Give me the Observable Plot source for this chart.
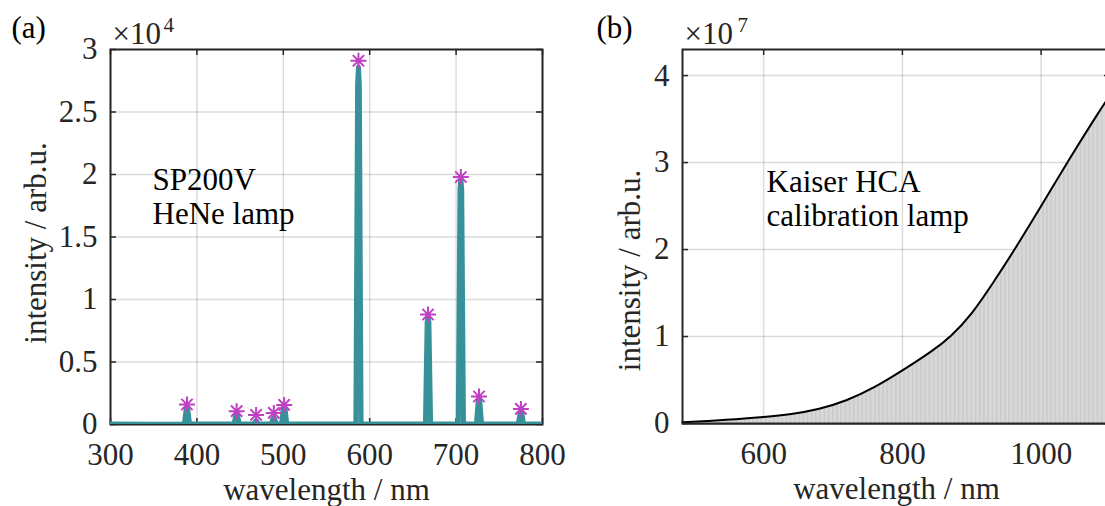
<!DOCTYPE html>
<html>
<head>
<meta charset="utf-8">
<script src="https://cdn.jsdelivr.net/npm/d3@7"></script>
<script src="https://cdn.jsdelivr.net/npm/@observablehq/plot@0.6"></script>
<style>
  html, body { margin: 0; padding: 0; background: #fff; }
  #fig { position: relative; width: 1105px; height: 506px; overflow: hidden; }
  #fig > div { position: absolute; top: 0; }
  #fig svg { max-width: none; }
  #pa { left: 0; width: 580px; }
  #pb { left: 580px; width: 540px; }
</style>
</head>
<body>
<div id="fig"><div id="pa"></div><div id="pb"></div></div>
<script>
// ---- (a) SP200V HeNe lamp spectrum ----
const specWl = [300, 350, 385.5, 387.5, 388.5, 389.5, 391.5, 420, 443, 445, 446, 447, 449,
  465.5, 467.5, 468.5, 469.5, 471.5, 486, 488, 489, 490, 492, 498, 500, 501, 502, 504,
  540, 584, 586, 587, 588, 590, 630, 664.5, 666.5, 667.5, 668.5, 670.5,
  702.5, 704.5, 705.5, 706.5, 708.5, 723.5, 725.5, 726.5, 727.5, 729.5,
  760, 772, 774, 775, 776, 778, 800];
const specI = [40, 30, 50, 1150, 1350, 1150, 40, 40, 40, 700, 850, 700, 40,
  40, 220, 300, 220, 40, 40, 450, 550, 450, 40, 40, 1300, 1500, 1300, 40,
  50, 60, 27200, 28600, 27200, 60, 40, 50, 8200, 8600, 8200, 50,
  60, 18800, 19600, 18800, 60, 40, 1800, 2100, 1800, 40,
  40, 40, 900, 1100, 900, 40, 40];

// detected line positions
const peakWl = [388.5, 446, 468.5, 489, 501, 587, 667.5, 705.5, 726.5, 775];
const peakI = [1600, 1070, 770, 930, 1570, 29100, 8800, 19800, 2240, 1250];

const xTicksA = [300, 400, 500, 600, 700, 800];
const yTicksA = [0, 5000, 10000, 15000, 20000, 25000, 30000];

// ---- (b) Kaiser HCA calibration lamp ----
const calWl = [483, 520, 560, 600, 640, 680, 720, 760, 800, 840, 870, 900, 930, 960, 1000, 1040, 1080, 1100];
const calI = [0.015e7, 0.03e7, 0.05e7, 0.075e7, 0.11e7, 0.17e7, 0.27e7, 0.42e7, 0.61e7, 0.82e7,
  1.01e7, 1.27e7, 1.61e7, 1.98e7, 2.50e7, 3.03e7, 3.54e7, 3.78e7];

const xTicksB = [600, 800, 1000];
const yTicksB = [0, 1e7, 2e7, 3e7, 4e7];

const FONT = "Liberation Serif";
const FS = 31;
const INK = "#262626";
const TEAL = "#379198";
const MAGENTA = "#c040c4";

const spectrum = specWl.map((w, i) => ({w, v: specI[i]}));
const peaks = peakWl.map((w, i) => ({w, v: peakI[i]}));
const cal = calWl.map((w, i) => ({w, v: calI[i]}));

// eight-armed asterisk (plus and cross)
const asterisk8 = {
  draw(context, size) {
    const r = Math.sqrt(size / Math.PI);
    const d = r * Math.SQRT1_2;
    context.moveTo(-r, 0); context.lineTo(r, 0);
    context.moveTo(0, -r); context.lineTo(0, r);
    context.moveTo(-d, -d); context.lineTo(d, d);
    context.moveTo(-d, d); context.lineTo(d, -d);
  }
};

// grid, box and inward ticks on all four sides
function boxMarks(xt, yt, innerW, innerH) {
  const len = 6;
  const tk = {stroke: INK, strokeWidth: 1.5};
  return [
    Plot.gridX(xt, {stroke: "#000", strokeOpacity: 0.14, strokeWidth: 1.5}),
    Plot.gridY(yt, {stroke: "#000", strokeOpacity: 0.14, strokeWidth: 1.5}),
    Plot.frame({stroke: INK, strokeWidth: 2}),
    Plot.tickX(xt, {x: d => d, ...tk, insetTop: innerH - len}),
    Plot.tickX(xt, {x: d => d, ...tk, insetBottom: innerH - len}),
    Plot.tickY(yt, {y: d => d, ...tk, insetRight: innerW - len}),
    Plot.tickY(yt, {y: d => d, ...tk, insetLeft: innerW - len})
  ];
}

function labelMarks(xt, tag, power, tagDx, ylabelDx, ylabelDy, supDx) {
  const t = {fontFamily: FONT, fill: INK, lineAnchor: "bottom", textAnchor: "start"};
  return [
    Plot.axisX(xt, {anchor: "bottom", tickSize: 0, tickPadding: 18, tickFormat: d => String(d),
      fontSize: FS, fontFamily: FONT, color: INK, label: null}),
    Plot.text([tag], {frameAnchor: "top-left", dx: tagDx, dy: -12, fontSize: FS, ...t, fill: "#000"}),
    Plot.text(["×10"], {frameAnchor: "top-left", dx: 2, dy: -6, fontSize: FS, ...t}),
    Plot.text([power], {frameAnchor: "top-left", dx: supDx, dy: -18, fontSize: 21, ...t}),
    Plot.text(["wavelength / nm"], {frameAnchor: "bottom", dy: 75, fontSize: FS, fontFamily: FONT, fill: INK, lineAnchor: "bottom"}),
    Plot.text(["intensity / arb.u."], {frameAnchor: "left", rotate: -90, dx: ylabelDx, dy: ylabelDy,
      fontSize: FS, fontFamily: FONT, fill: INK, lineAnchor: "bottom", textAnchor: "middle", letterSpacing: "4.8px"})
  ];
}

// ---- panel (a) ----
const mA = {left: 110, right: 38, top: 49, bottom: 82};
const wA = 580, hA = 506;
const plotA = Plot.plot({
  width: wA, height: hA,
  marginLeft: mA.left, marginRight: mA.right, marginTop: mA.top, marginBottom: mA.bottom,
  style: {fontFamily: FONT, fontSize: FS + "px", color: INK, background: "transparent", overflow: "visible"},
  x: {domain: [300, 800]},
  y: {domain: [0, 30000]},
  marks: [
    ...boxMarks(xTicksA, yTicksA, wA - mA.left - mA.right, hA - mA.top - mA.bottom),
    Plot.line(spectrum, {x: "w", y: "v", stroke: TEAL, strokeWidth: 5, clip: true}),
    Plot.dot(peaks, {x: "w", y: "v", symbol: asterisk8, r: 8, fill: "none", stroke: MAGENTA, strokeWidth: 2}),
    Plot.axisY(yTicksA, {tickSize: 0, tickPadding: 13, tickFormat: d => String(d / 1e4), fontSize: FS, fontFamily: FONT, color: INK, label: null}),
    ...labelMarks(xTicksA, "(a)", "4", -99, -65, 6, 53),
    Plot.text(["SP200V\nHeNe lamp"], {frameAnchor: "top-left", dx: 42, dy: 223 - 49, lineAnchor: "bottom",
      textAnchor: "start", lineHeight: 34 / FS, fontSize: FS, fontFamily: FONT, fill: "#000"})
  ]
});
document.getElementById("pa").appendChild(plotA);

// ---- panel (b) ----
const mB = {left: 102, right: 10, top: 49, bottom: 83};
const wB = 540, hB = 506;
const plotB = Plot.plot({
  width: wB, height: hB,
  marginLeft: mB.left, marginRight: mB.right, marginTop: mB.top, marginBottom: mB.bottom,
  style: {fontFamily: FONT, fontSize: FS + "px", color: INK, background: "transparent", overflow: "visible"},
  x: {domain: [483, 1100]},
  y: {domain: [0, 4.3e7]},
  marks: [
    ...boxMarks(xTicksB, yTicksB, wB - mB.left - mB.right, hB - mB.top - mB.bottom),
    Plot.areaY(cal, {x: "w", y: "v", fill: "url(#calStripes)", curve: "natural"}),
    Plot.lineY(cal, {x: "w", y: "v", stroke: "#000", strokeWidth: 2, curve: "natural"}),
    Plot.ruleY([0], {stroke: INK, strokeWidth: 2}),
    Plot.axisY(yTicksB, {tickSize: 0, tickPadding: 13, tickFormat: d => String(d / 1e7), fontSize: FS, fontFamily: FONT, color: INK, label: null}),
    ...labelMarks(xTicksB, "(b)", "7", -86, -43, 34, 55),
    Plot.text(["Kaiser HCA\ncalibration lamp"], {frameAnchor: "top-left", dx: 84, dy: 225 - 49, lineAnchor: "bottom",
      textAnchor: "start", lineHeight: 34 / FS, fontSize: FS, fontFamily: FONT, fill: "#000"})
  ]
});
// faint vertical striping of the shaded area
const defs = d3.select(plotB).insert("defs", ":first-child");
const pat = defs.append("pattern").attr("id", "calStripes")
  .attr("patternUnits", "userSpaceOnUse").attr("width", 4.2).attr("height", 10);
pat.append("rect").attr("width", 4.2).attr("height", 10).attr("fill", "#d8d8d8");
pat.append("rect").attr("width", 1.4).attr("height", 10).attr("fill", "#cacaca");
document.getElementById("pb").appendChild(plotB);
</script>
</body>
</html>
